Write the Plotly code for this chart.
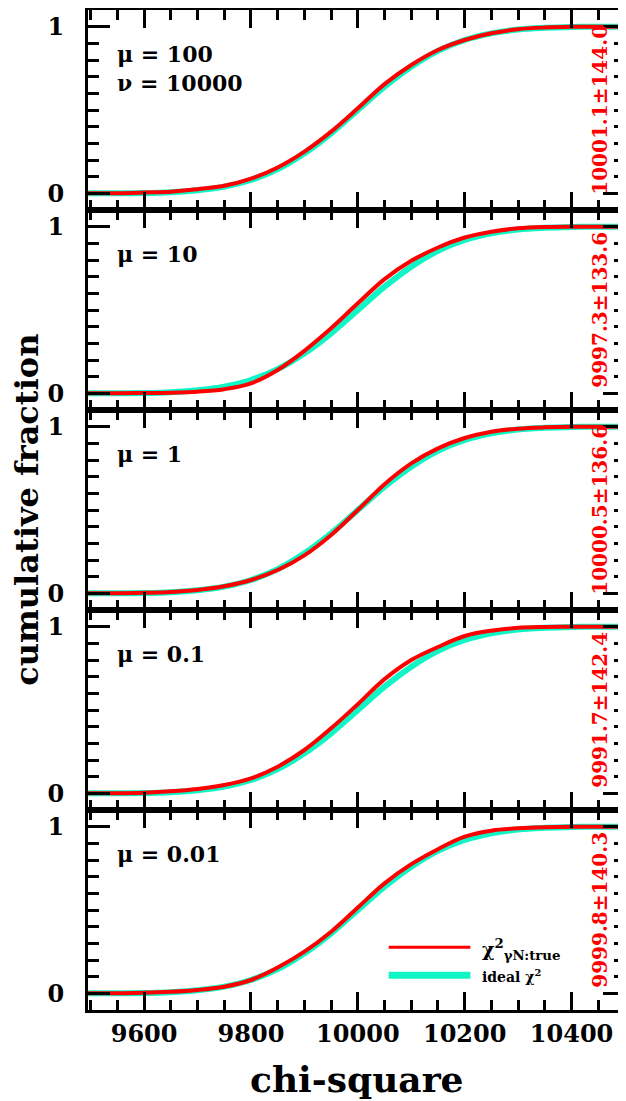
import plotly.graph_objects as go
from plotly.subplots import make_subplots

# ---- data ----
chi_x = [9495, 9550, 9600, 9650, 9700, 9750, 9800, 9850, 9900, 9950, 10000,
         10050, 10100, 10150, 10200, 10250, 10300, 10350, 10400, 10450, 10500]

ideal_cdf = [0.0, 0.0005, 0.002, 0.007, 0.018, 0.04, 0.08, 0.145, 0.24, 0.36, 0.5,
             0.64, 0.76, 0.855, 0.92, 0.96, 0.983, 0.993, 0.998, 1.0, 1.0]

cdf_mu100 = [0.0, 0.001, 0.005, 0.01, 0.025, 0.045, 0.088, 0.155, 0.25, 0.37, 0.51,
             0.655, 0.77, 0.86, 0.92, 0.96, 0.985, 0.995, 0.999, 1.0, 1.0]
cdf_mu10 = [0.0, 0.0, 0.002, 0.004, 0.01, 0.025, 0.06, 0.14, 0.255, 0.39, 0.54,
            0.685, 0.795, 0.875, 0.935, 0.97, 0.99, 0.998, 1.0, 1.0, 1.0]
cdf_mu1 = [0.0, 0.0005, 0.003, 0.008, 0.02, 0.042, 0.08, 0.14, 0.228, 0.35, 0.5,
           0.655, 0.78, 0.87, 0.932, 0.97, 0.988, 0.996, 1.0, 1.0, 1.0]
cdf_mu01 = [0.0, 0.001, 0.004, 0.012, 0.026, 0.05, 0.09, 0.16, 0.26, 0.39, 0.535,
            0.685, 0.80, 0.878, 0.944, 0.976, 0.993, 0.998, 1.0, 1.0, 1.0]
cdf_mu001 = [0.0, 0.001, 0.003, 0.009, 0.02, 0.04, 0.08, 0.155, 0.25, 0.37, 0.515,
             0.66, 0.775, 0.865, 0.94, 0.976, 0.99, 0.997, 1.0, 1.0, 1.0]

panel_cdfs = [cdf_mu100, cdf_mu10, cdf_mu1, cdf_mu01, cdf_mu001]
panel_labels = [["μ = 100", "ν = 10000"], ["μ = 10"], ["μ = 1"], ["μ = 0.1"], ["μ = 0.01"]]
panel_stats = ["10001.1±144.0", "9997.3±133.6", "10000.5±136.6", "9991.7±142.4", "9999.8±140.3"]

x_tickvals = [9600, 9800, 10000, 10200, 10400]
x_ticktext = ["9600", "9800", "10000", "10200", "10400"]

RED = "#FF0000"
CYAN = "#10F5C5"
FONT = "DejaVu Serif"

fig = make_subplots(rows=5, cols=1, shared_xaxes=True, vertical_spacing=0)

for i, cdf in enumerate(panel_cdfs):
    r = i + 1
    fig.add_trace(go.Scatter(x=chi_x, y=ideal_cdf, mode="lines",
                             line=dict(color=CYAN, width=6, shape="spline", smoothing=1.0),
                             showlegend=False, hoverinfo="skip"), row=r, col=1)
    fig.add_trace(go.Scatter(x=chi_x, y=cdf, mode="lines",
                             line=dict(color=RED, width=4, shape="spline", smoothing=1.0),
                             showlegend=False, hoverinfo="skip"), row=r, col=1)

axis_common = dict(showline=True, linecolor="black", linewidth=3, mirror="ticks",
                   ticks="inside", tickcolor="black", tickwidth=3,
                   showgrid=False, zeroline=False, automargin=False)

for i in range(5):
    r = i + 1
    fig.update_xaxes(range=[9495, 10500], tickvals=x_tickvals, ticktext=x_ticktext,
                     ticklen=18,
                     minor=dict(dtick=50, tick0=9500, ticks="inside", ticklen=10,
                                tickwidth=3, tickcolor="black", showgrid=False),
                     showticklabels=(r == 5),
                     tickfont=dict(family=FONT, size=24, color="black", weight="bold"),
                     **axis_common, row=r, col=1)
    fig.update_yaxes(range=[-0.1, 1.1], tickvals=[0, 1], ticktext=["0", "1"],
                     ticklen=22,
                     minor=dict(dtick=0.1, tick0=0, ticks="inside", ticklen=11,
                                tickwidth=3, tickcolor="black", showgrid=False),
                     tickfont=dict(family=FONT, size=24, color="black", weight="bold"),
                     ticklabelstandoff=16,
                     **axis_common, row=r, col=1)

annotations = []
for i in range(5):
    sfx = "" if i == 0 else str(i + 1)
    xd = "x" + sfx + " domain"
    yr = "y" + sfx
    for j, lab in enumerate(panel_labels[i]):
        annotations.append(dict(x=0.05, xref=xd, y=0.835 - j * 0.175, yref=yr,
                                text="<b>" + lab + "</b>", showarrow=False,
                                xanchor="left", yanchor="middle",
                                font=dict(family=FONT, size=22, color="black")))
    annotations.append(dict(x=0.953, xref=xd, y=0.5, yref=yr,
                            text="<b>" + panel_stats[i] + "</b>", showarrow=False,
                            textangle=-90, xanchor="center", yanchor="middle",
                            font=dict(family=FONT, size=20, color=RED)))

# legend (bottom panel)
fig.add_shape(type="line", xref="x5 domain", yref="y5", x0=0.56, x1=0.712, y0=0.277, y1=0.277,
              line=dict(color=RED, width=3))
fig.add_shape(type="line", xref="x5 domain", yref="y5", x0=0.56, x1=0.712, y0=0.108, y1=0.108,
              line=dict(color=CYAN, width=7))
annotations.append(dict(x=0.73, xref="x5 domain", y=0.265, yref="y5",
                        text="<b>χ<sup>2</sup><sub>γN:true</sub></b>", showarrow=False,
                        xanchor="left", yanchor="middle",
                        font=dict(family=FONT, size=19, color="black")))
annotations.append(dict(x=0.73, xref="x5 domain", y=0.105, yref="y5",
                        text="<b>ideal χ<sup>2</sup></b>", showarrow=False,
                        xanchor="left", yanchor="middle",
                        font=dict(family=FONT, size=14, color="black")))

# axis titles
annotations.append(dict(x=0.5, xref="paper", y=-0.069, yref="paper",
                        text="<b>chi-square</b>", showarrow=False,
                        xanchor="center", yanchor="middle",
                        font=dict(family=FONT, size=36, color="black")))
annotations.append(dict(x=-0.114, xref="paper", y=0.5, yref="paper",
                        text="<b>cumulative fraction</b>", showarrow=False, textangle=-90,
                        xanchor="center", yanchor="middle",
                        font=dict(family=FONT, size=32, color="black")))

# the page body adds an 8px offset, so the figure is sized/margined to compensate
fig.update_layout(width=618, height=1093, margin=dict(l=80, r=1, t=2, b=91),
                  paper_bgcolor="white", plot_bgcolor="white",
                  annotations=annotations, showlegend=False)

fig.write_html("out.html")
